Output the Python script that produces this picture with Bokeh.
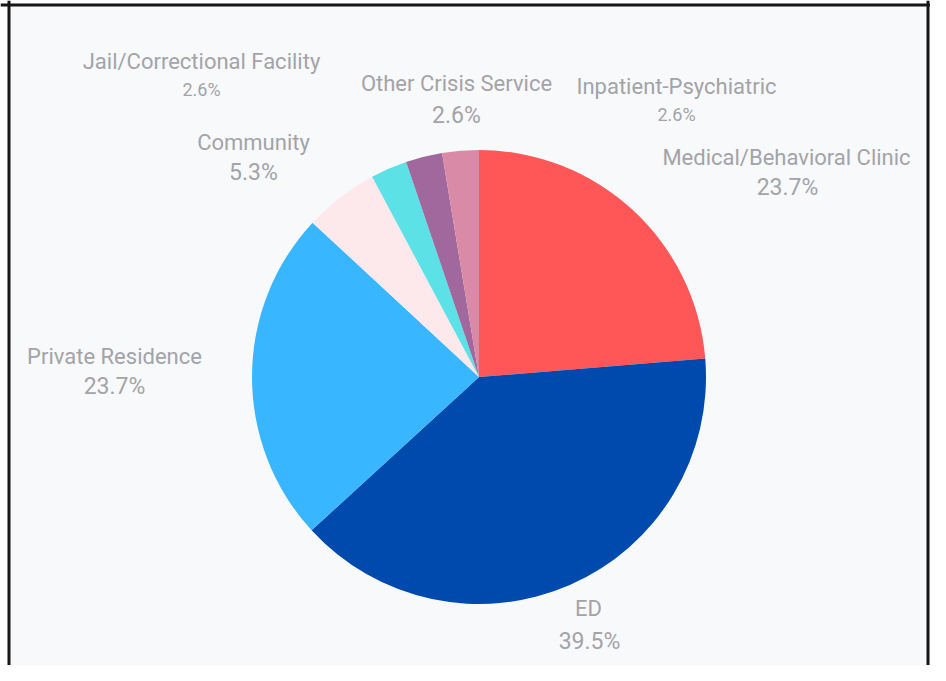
import math
from bokeh.plotting import figure
from bokeh.models import ColumnDataSource, Range1d, BoxAnnotation, Span
from bokeh.core.properties import value
from bokeh.embed import file_html
from bokeh.resources import INLINE

# ---- data ----
categories = ["Medical/Behavioral Clinic", "ED", "Private Residence", "Community",
              "Jail/Correctional Facility", "Other Crisis Service", "Inpatient-Psychiatric"]
percents = [23.7, 39.5, 23.7, 5.3, 2.6, 2.6, 2.6]
pct_labels = ["23.7%", "39.5%", "23.7%", "5.3%", "2.6%", "2.6%", "2.6%"]
colors = ["#ff5757", "#004aad", "#38b6ff", "#fde8ec", "#5ce1e6", "#a0689c", "#d88aa6"]

# ---- layout (pixel positions of label centres) ----
name_x = [786, 588, 114, 253, 201, 456, 676]
name_y = [157, 608, 356, 142, 61, 83, 86]
pct_x = [787, 589, 114, 253, 201, 456, 676]
pct_y = [187, 641, 386, 172, 89, 115, 114]
pct_size = ["23px", "23px", "23px", "23px", "18px", "23px", "18px"]

W, H = 930, 665


def dx(px):
    return px


def dy(py):
    return H - py


cx, cy, R = dx(478.5), dy(376.5), 227

total = sum(percents)
starts, ends = [], []
acc = 0.0
for v in percents:
    starts.append(math.pi / 2 - 2 * math.pi * acc / total)
    acc += v
    ends.append(math.pi / 2 - 2 * math.pi * acc / total)

src = ColumnDataSource(dict(
    x=[cx] * len(percents), y=[cy] * len(percents),
    start=starts, end=ends, color=colors, cat=categories))

p = figure(width=W, height=H, output_backend="svg", toolbar_location=None,
           x_range=Range1d(0, W), y_range=Range1d(0, H),
           min_border=0, background_fill_color="#f8f9fb",
           border_fill_color="#f8f9fb")
p.axis.visible = False
p.grid.visible = False
p.outline_line_color = None

# white surround outside the dark frame line
p.add_layout(BoxAnnotation(right=dx(7), fill_color="white", fill_alpha=1, line_color=None))
p.add_layout(BoxAnnotation(bottom=dy(3), fill_color="white", fill_alpha=1, line_color=None))
p.add_layout(Span(location=dx(8.5), dimension="height", line_color="#161616", line_width=3))
p.add_layout(Span(location=dx(927.5), dimension="height", line_color="#161616", line_width=3))
p.add_layout(Span(location=dy(4.5), dimension="width", line_color="#161616", line_width=3))

p.wedge(x="x", y="y", radius=R, start_angle="start", end_angle="end",
        direction="clock", fill_color="color", line_color=None, source=src)

txt_color = "#a3a3a8"
lab = ColumnDataSource(dict(x=[dx(v) for v in name_x], y=[dy(v) for v in name_y], t=categories))
p.text(x="x", y="y", text="t", source=lab, text_align="center", text_baseline="middle",
       text_font=value("Roboto"), text_font_size="22px", text_color=txt_color)
pl = ColumnDataSource(dict(x=[dx(v) for v in pct_x], y=[dy(v) for v in pct_y],
                           t=pct_labels, s=pct_size))
p.text(x="x", y="y", text="t", source=pl, text_align="center", text_baseline="middle",
       text_font=value("Roboto"), text_font_size="s", text_color=txt_color)

open("out.html", "w").write(file_html(p, INLINE))
